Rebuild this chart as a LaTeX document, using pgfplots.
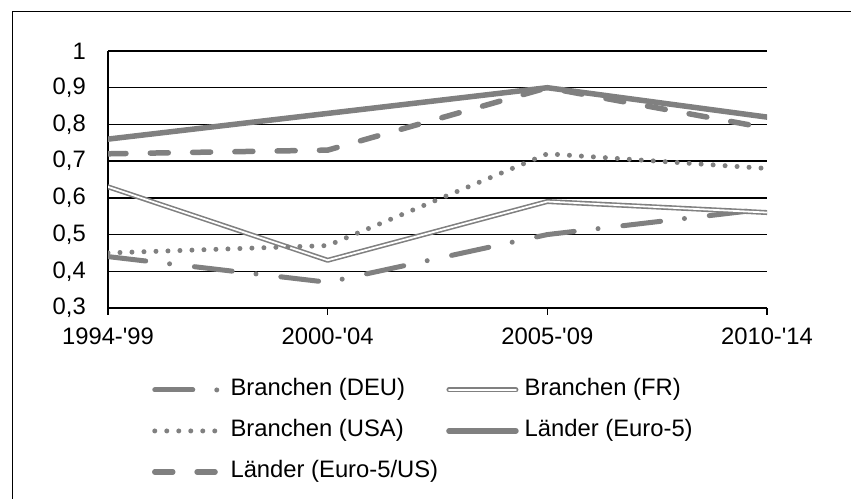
\documentclass[border=0pt]{standalone}
\usepackage{pgfplots}
\pgfplotsset{compat=1.18}
\usepackage{fontspec}
\setmainfont{Liberation Sans}
\definecolor{lg}{RGB}{128,128,128}
\begin{document}
\fontsize{23.8bp}{28bp}\selectfont
\begin{tikzpicture}
\useasboundingbox (0,0) rectangle (851bp,499bp);
\draw[line width=1.3bp] (12.6bp,-5bp) |- (860bp,487.4bp);
\begin{axis}[
  at={(108bp,191bp)}, anchor=south west,
  scale only axis, width=659bp, height=257bp,
  xmin=0, xmax=3, ymin=0.3, ymax=1,
  axis x line=bottom, axis y line=left,
  axis line style={-, line width=1.3bp, black},
  xtick={0,1,2,3},
  xticklabels={1994-\textquotesingle99,2000-\textquotesingle04,2005-\textquotesingle09,2010-\textquotesingle14},
  ytick={0.3,0.4,0.5,0.6,0.7,0.8,0.9,1},
  ymajorgrids, grid style={black, line width=1.3bp},
  tick align=outside, major tick length=7bp,
  x tick style={black, line width=1.3bp},
  y tick style={draw=none},
  /pgf/number format/.cd, use comma, fixed, precision=1, assume math mode=true,
  /pgfplots/.cd,
  ticklabel style={font=\fontsize{23.8bp}{28bp}\selectfont, inner sep=0pt},
  yticklabel style={xshift=-15bp},
  xticklabel style={yshift=-13bp},
  legend columns=2,
  legend cell align=left,
  legend image code/.code={\draw[#1] (0bp,0bp) -- (67bp,0bp);},
  legend style={at={(0.0668,-0.28)}, anchor=north west, draw=none, fill=none,
    inner sep=0pt, outer sep=0pt, row sep=21bp,
    font=\fontsize{23.8bp}{28bp}\selectfont,
    nodes={inner sep=0pt, text height=16bp, text depth=4bp},
    /tikz/every odd column/.append style={column sep=6bp},
    /tikz/every even column/.append style={column sep=8bp}},
  every axis plot/.append style={lg, line cap=round, line join=round},
]
\addplot[line width=5bp, dash pattern=on 38bp off 24bp on 0bp off 25bp] coordinates {(0,0.44) (1,0.37) (2,0.50) (3,0.57)};
\addlegendentry{Branchen (DEU)}
\addplot[line width=1.6bp, double=white, double distance=1.8bp] coordinates {(0,0.63) (1,0.43) (2,0.59) (3,0.56)};
\addlegendentry{Branchen (FR)}
\addplot[line width=5bp, dash pattern=on 0bp off 12bp] coordinates {(0,0.45) (1,0.47) (2,0.72) (3,0.68)};
\addlegendentry{Branchen (USA)}
\addplot[line width=5.5bp] coordinates {(0,0.76) (1,0.83) (2,0.90) (3,0.82)};
\addlegendentry{Länder (Euro-5)}
\addplot[line width=5.5bp, dash pattern=on 18bp off 24.3bp] coordinates {(0,0.72) (1,0.73) (2,0.90) (3,0.79)};
\addlegendentry{Länder (Euro-5/US)}
\end{axis}
\end{tikzpicture}
\end{document}
